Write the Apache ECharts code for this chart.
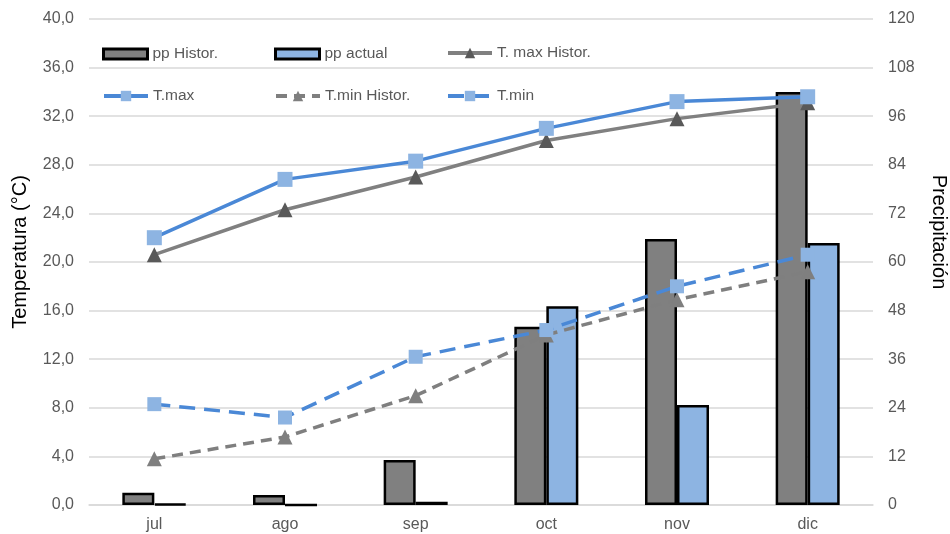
<!DOCTYPE html>
<html><head><meta charset="utf-8">
<script src="https://cdn.jsdelivr.net/npm/echarts@6/dist/echarts.min.js"></script>
<style>html,body{margin:0;padding:0;background:#fff}#c{width:950px;height:534px}</style>
</head><body><div id="c"></div>
<script>
const categories = ['jul','ago','sep','oct','nov','dic'];
const ppHistor = [3.0, 2.5, 11.1, 44.0, 65.7, 102.0];
const ppActual = [0.3, 0, 0.8, 49.1, 24.7, 64.7];
const tMaxHistor = [20.6, 24.3, 27.0, 30.0, 31.8, 33.1];
const tMax = [22.0, 26.8, 28.3, 31.0, 33.2, 33.6];
const tMinHistor = [3.8, 5.6, 9.0, 14.0, 16.9, 19.2];
const tMin = [8.3, 7.2, 12.2, 14.4, 18.0, 20.6];
const leftTicks = {min:0, max:40, interval:4};
const rightTicks = {min:0, max:120, interval:12};

const font = 'Liberation Sans, Arial, sans-serif';
const chart = echarts.init(document.getElementById('c'));
function leg(name, left, top, isBar){
  const o = {data:[name], left:left, top:top, itemWidth:44, itemHeight:isBar?10:13, itemGap:0,
    textStyle:{color:'#595959', fontSize:15.5, fontFamily:font}, selectedMode:false};
  if (isBar) { o.icon = 'rect'; o.itemStyle = {borderWidth:3, borderColor:'#000'}; }
  else { o.lineStyle = {width:4}; }
  return o;
}
chart.setOption({
  animation:false,
  textStyle:{fontFamily:font},
  legend:[
    leg('pp Histor.',97,41,true), leg('pp actual',269,41,true), leg('T. max Histor.',441,40,false),
    leg('T.max',97,83,false), leg('T.min Histor.',269,83,false), leg('T.min',441,83,false)
  ],
  grid:{left:89, right:77, top:19, bottom:29, outerBoundsMode:'none', containLabel:false},
  xAxis:{type:'category', data:categories,
    axisLine:{show:true, lineStyle:{color:'#d9d9d9', width:1.5}}, axisTick:{show:false},
    axisLabel:{color:'#595959', fontSize:16, margin:12}},
  yAxis:[
    {type:'value', min:leftTicks.min, max:leftTicks.max, interval:leftTicks.interval,
     name:'Temperatura (°C)', nameLocation:'middle', nameGap:59,
     nameTextStyle:{color:'#000', fontSize:20, padding:[0,0,0,20]},
     axisLabel:{color:'#595959', fontSize:16, margin:15, formatter:v=>v.toFixed(1).replace('.',',')},
     splitLine:{lineStyle:{color:'#d9d9d9', width:1.5}}, axisLine:{show:false}, axisTick:{show:false}},
    {type:'value', min:rightTicks.min, max:rightTicks.max, interval:rightTicks.interval,
     name:'Precipitación', nameLocation:'middle', nameGap:56, nameRotate:-90,
     nameTextStyle:{color:'#000', fontSize:20, padding:[0,60,0,0]},
     axisLabel:{color:'#595959', fontSize:16, margin:15},
     splitLine:{show:false}, axisLine:{show:false}, axisTick:{show:false}}
  ],
  series:[
    {name:'pp Histor.', type:'bar', yAxisIndex:1, data:ppHistor, barWidth:32, barGap:'0%',
     itemStyle:{color:'#808080', borderColor:'#000', borderWidth:2.5}},
    {name:'pp actual', type:'bar', yAxisIndex:1, data:ppActual, barWidth:32, barGap:'0%',
     itemStyle:{color:'#8db4e2', borderColor:'#000', borderWidth:2.5}},
    {name:'T. max Histor.', type:'line', data:tMaxHistor, symbol:'triangle', symbolSize:15,
     lineStyle:{color:'#808080', width:3.5}, itemStyle:{color:'#595959'}},
    {name:'T.max', type:'line', data:tMax, symbol:'rect', symbolSize:15,
     lineStyle:{color:'#4a88d6', width:3.5}, itemStyle:{color:'#8db4e2'}},
    {name:'T.min Histor.', type:'line', data:tMinHistor, symbol:'triangle', symbolSize:15,
     lineStyle:{color:'#7f7f7f', width:3.5, type:[11,7]}, itemStyle:{color:'#7f7f7f'}},
    {name:'T.min', type:'line', data:tMin, symbol:'rect', symbolSize:14,
     lineStyle:{color:'#4a88d6', width:3.5, type:[16,9]}, itemStyle:{color:'#8db4e2'}}
  ]
});
</script></body></html>
